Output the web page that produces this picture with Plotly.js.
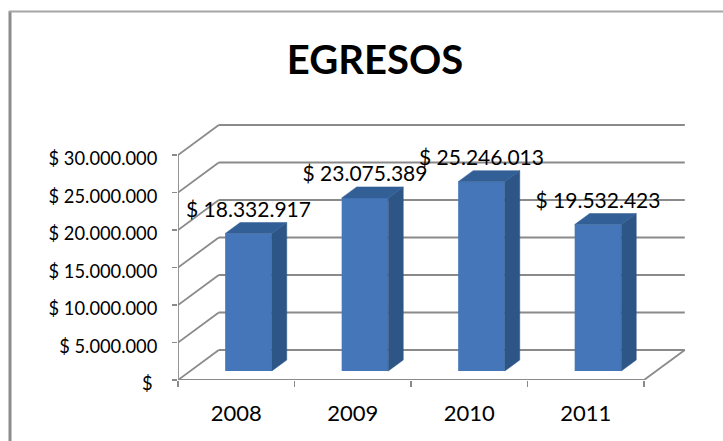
<!DOCTYPE html>
<html>
<head>
<meta charset="utf-8">
<script src="https://cdn.plot.ly/plotly-3.0.1.min.js"></script>
<style>html,body{margin:0;padding:0;background:#fff;overflow:hidden}#chart{width:723px;height:441px}</style>
</head>
<body>
<div id="chart"></div>
<script>
var categories = ['2008', '2009', '2010', '2011'];
var egresos = [18332917, 23075389, 25246013, 19532423];
var axisValues = [0, 5000000, 10000000, 15000000, 20000000, 25000000, 30000000];
var axisLabels = ['$\u00a0', '$ 5.000.000', '$ 10.000.000', '$ 15.000.000', '$ 20.000.000', '$ 25.000.000', '$ 30.000.000'];

var FONT = 'Lato, Carlito, "Open Sans", sans-serif';
var GRID = '#8a8a8a';
var FRONT = '#4476b9', SIDE = '#2d5687', TOP = '#335f97';

// oblique projection of the 3D box: depth 0..1 shifts along category and value
var DEPTH_X = 0.35, DEPTH_Y = 4000000;
function px(cat, d) { return cat + d * DEPTH_X; }
function py(val, d) { return val + d * DEPTH_Y; }
var D0 = 0.3, D1 = 0.667, BAR = 0.4;

function money(v) { return '$ ' + String(v).replace(/\B(?=(\d{3})+$)/g, '.'); }

function seg(x0, y0, x1, y1, w) {
  return {type: 'line', layer: 'below', xref: 'x', yref: 'y', x0: x0, y0: y0, x1: x1, y1: y1,
          line: {color: GRID, width: w || 1.8}};
}
var shapes = [];
var nCat = categories.length;
axisValues.forEach(function (v) {
  shapes.push(seg(px(0, 0), py(v, 0), px(0, 1), py(v, 1)));
  shapes.push(seg(px(0, 1), py(v, 1), px(nCat, 1), py(v, 1)));
});
shapes.push(seg(0, 0, 0, 30000000));
shapes.push(seg(0, 0, nCat, 0));
shapes.push(seg(px(nCat, 0), py(0, 0), px(nCat, 1), py(0, 1)));

// chart frame (left and top edges only, as in the picture)
var W = 520, H = 260, L = 178, T = 120;
shapes.push({type: 'line', xref: 'paper', yref: 'paper', layer: 'below',
  x0: (10 - L) / W, x1: (10 - L) / W, y0: (T + H - 441) / H, y1: (T + H - 11) / H,
  line: {color: '#8c8c8c', width: 3}});
shapes.push({type: 'line', xref: 'paper', yref: 'paper', layer: 'below',
  x0: (9 - L) / W, x1: (723 - L) / W, y0: (T + H - 11.5) / H, y1: (T + H - 11.5) / H,
  line: {color: '#a6a6a6', width: 2}});

var traces = [];
var centers = categories.map(function (c, i) { return px(i + 0.5, D0); });

traces.push({
  type: 'bar', x: centers, y: egresos,
  base: egresos.map(function () { return py(0, D0); }),
  width: BAR, marker: {color: FRONT, line: {width: 0}},
  hoverinfo: 'skip', showlegend: false
});

egresos.forEach(function (v, i) {
  var xl = centers[i] - BAR / 2, xr = centers[i] + BAR / 2;
  var dx = (D1 - D0) * DEPTH_X, dy = (D1 - D0) * DEPTH_Y, b = py(0, D0), t = b + v;
  traces.push({
    type: 'scatter', mode: 'lines', fill: 'toself', fillcolor: SIDE,
    x: [xr, xr + dx, xr + dx, xr, xr], y: [b, b + dy, t + dy, t, b],
    line: {color: SIDE, width: 0.5}, hoverinfo: 'skip', showlegend: false
  });
  traces.push({
    type: 'scatter', mode: 'lines', fill: 'toself', fillcolor: TOP,
    x: [xl, xl + dx, xr + dx, xr, xl], y: [t, t + dy, t + dy, t, t],
    line: {color: TOP, width: 0.5}, hoverinfo: 'skip', showlegend: false
  });
});

traces.push({
  type: 'scatter', mode: 'text', x: centers,
  y: egresos.map(function (v) { return py(v, D0) + 2950000; }),
  text: egresos.map(money), textposition: 'middle center',
  textfont: {family: FONT, size: 21, color: '#000'},
  cliponaxis: false, hoverinfo: 'skip', showlegend: false
});

var layout = {
  width: 723, height: 441,
  margin: {l: L, r: 723 - L - W, t: T, b: 441 - T - H, pad: 0},
  paper_bgcolor: '#fff', plot_bgcolor: 'rgba(0,0,0,0)',
  showlegend: false,
  title: {text: '<b>EGRESOS</b>', x: 375 / 723, xanchor: 'center', y: 1 - 60 / 441, yanchor: 'middle',
          font: {family: FONT, size: 40, color: '#000'}},
  xaxis: {
    range: [0, W / 116.5], showgrid: false, zeroline: false, showline: false,
    tickmode: 'array', tickvals: categories.map(function (c, i) { return i + 0.5; }), ticktext: categories,
    ticks: '', ticklabelstandoff: 18, tickfont: {family: FONT, size: 22, color: '#000'},
    minor: {tickmode: 'array', tickvals: [0, 1, 2, 3, 4], ticks: 'outside', ticklen: 6, tickwidth: 1.8, tickcolor: GRID, showgrid: false}
  },
  yaxis: {
    range: [0, H / 7.5 * 1000000], showgrid: false, zeroline: false, showline: false,
    tickmode: 'array', tickvals: axisValues, ticktext: axisLabels,
    ticks: 'outside', ticklen: 5, tickwidth: 1.8, tickcolor: GRID,
    ticklabelstandoff: 11, ticklabelshift: 4, tickfont: {family: FONT, size: 18.3, color: '#000'}
  },
  shapes: shapes
};
Plotly.newPlot('chart', traces, layout, {displayModeBar: false, staticPlot: true});
</script>
</body>
</html>
